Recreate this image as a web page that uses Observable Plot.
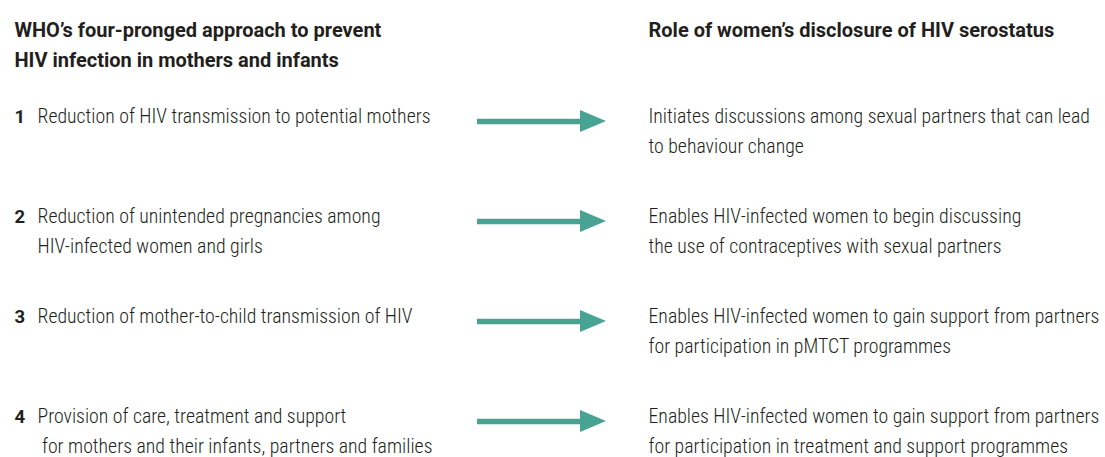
<!DOCTYPE html>
<html><head>
<meta charset="utf-8">
<script src="https://cdn.jsdelivr.net/npm/d3@7"></script>
<script src="https://cdn.jsdelivr.net/npm/@observablehq/plot@0.6"></script>
<style>
body { margin: 0; background: #fff; }
</style>
</head><body>
<div id="chart"></div>
<script>
// ---- data ----
const leftHeading = ["WHO’s four-pronged approach to prevent", "HIV infection in mothers and infants"];
const rightHeading = ["Role of women’s disclosure of HIV serostatus"];
const prongNumbers = ["1", "2", "3", "4"];
const prongs = [
  ["Reduction of HIV transmission to potential mothers"],
  ["Reduction of unintended pregnancies among", "HIV-infected women and girls"],
  ["Reduction of mother-to-child transmission of HIV"],
  ["Provision of care, treatment and support", " for mothers and their infants, partners and families"]
];
const roles = [
  ["Initiates discussions among sexual partners that can lead", "to behaviour change"],
  ["Enables HIV-infected women to begin discussing", "the use of contraceptives with sexual partners"],
  ["Enables HIV-infected women to gain support from partners", "for participation in pMTCT programmes"],
  ["Enables HIV-infected women to gain support from partners", "for participation in treatment and support programmes"]
];

// ---- layout (styling) ----
const W = 1105, H = 457;
const lineGap = 0.305;       // in row units
const headRow = -0.855;
const xNum = 14, xLeft = 37, xRight = 648;
const xArrow0 = 477, xHead = 580, xTip = 606, headHalf = 0.11, arrowDy = -0.01;
const teal = "#48a393";
const ink = "#231f20";
const bodyFont = "'Roboto Condensed', 'Open Sans', sans-serif";
const headFont = "Roboto, 'Liberation Sans', sans-serif";

// ---- tables built from data ----
const headTexts = [
  ...leftHeading.map((t, i) => ({x: xNum, y: headRow + i * 0.295, t})),
  ...rightHeading.map((t, i) => ({x: xRight, y: headRow + i * 0.295, t}))
];
const numTexts = prongNumbers.map((t, r) => ({x: xNum, y: r, t}));
const bodyTexts = [
  ...prongs.flatMap((lines, r) => lines.map((t, i) => ({x: xLeft, y: r + i * lineGap, t}))),
  ...roles.flatMap((lines, r) => lines.map((t, i) => ({x: xRight, y: r + i * lineGap, t})))
];
const shafts = prongNumbers.map((n, r) => ({x1: xArrow0, x2: xHead + 2, y: r + arrowDy}));
const heads = prongNumbers.flatMap((n, r) => [
  {z: "a" + r, x: xHead, y1: r + arrowDy - headHalf, y2: r + arrowDy + headHalf},
  {z: "a" + r, x: xTip, y1: r + arrowDy, y2: r + arrowDy}
]);

const chart = Plot.plot({
  width: W,
  height: H,
  margin: 0,
  x: {type: "linear", domain: [0, W], range: [0, W], axis: null},
  y: {type: "linear", domain: [-1.22, -1.22 + H / 100], range: [0, H], axis: null},
  style: {background: "#fff"},
  marks: [
    Plot.ruleY(shafts, {x1: "x1", x2: "x2", y: "y", stroke: teal, strokeWidth: 5.5}),
    Plot.areaY(heads, {x: "x", y1: "y1", y2: "y2", z: "z", fill: teal, curve: "linear"}),
    Plot.text(headTexts, {x: "x", y: "y", text: "t", textAnchor: "start", lineAnchor: "bottom",
      fontFamily: headFont, fontWeight: "bold", fontSize: 20, fill: ink}),
    Plot.text(numTexts, {x: "x", y: "y", text: "t", textAnchor: "start", lineAnchor: "bottom",
      fontFamily: headFont, fontWeight: "bold", fontSize: 18.5, fill: ink}),
    Plot.text(bodyTexts, {x: "x", y: "y", text: "t", textAnchor: "start", lineAnchor: "bottom",
      fontFamily: bodyFont, fontWeight: 300, fontSize: 19.8, fill: ink})
  ]
});
document.getElementById("chart").append(chart);
</script>
</body></html>
